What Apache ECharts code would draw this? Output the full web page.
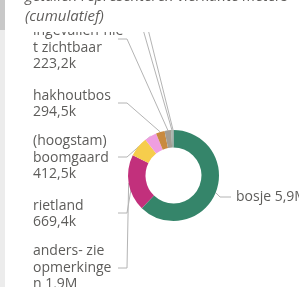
<!doctype html>
<html>
	<head>
		<meta charset="UTF-8">
		<title></title>
		<script src="https://cdn.jsdelivr.net/npm/echarts@6/dist/echarts.min.js"></script>
		<style>
			html, body { margin: 0; padding: 0; background: #ffffff; }
			#main { width: 299px; height: 287px; }
		</style>
	</head>
	<body>
		<div id="main"></div>
		<script type="text/javascript">
			// categorieen, met afbreking zoals in het origineel
			var categories = ['bosje', 'anders- zie opmerkingen', 'rietland', '(hoogstam) boomgaard', 'hakhoutbos', 'ingevallen-niet zichtbaar', 'houtwal', 'overig'];
			var labelPrefix = ['bosje ', 'anders- zie\nopmerkinge\nn ', 'rietland\n', '(hoogstam)\nboomgaard\n', 'hakhoutbos\n', 'ingevallen-nie\nt zichtbaar\n', 'houtwal ', 'overig '];
			var values = [5900000, 1900000, 669400, 412500, 294500, 223200, 45000, 30000];
			var colors = ['#35856a', '#c2307c', '#f6cd4c', '#ef9ee0', '#c98a3f', '#a39d94', '#93a89b', '#9a9a9a'];

			// plek van de labels (links uitgelijnd) en de hoogte van de lijnen
			var labelX = [236, 33, 33, 33, 33, 33, 128, 134];
			var labelY = [197, 268, 214, 158, 104, 48, 2, 2];
			var lineY = [197, 268, 213, 157, 103, 39, 5, 5];

			function fmt(v) {
				if (v >= 1000000) return (v / 1000000).toFixed(1).replace('.', ',') + 'M';
				return (v / 1000).toFixed(1).replace('.', ',') + 'k';
			}

			var data = [];
			for (var i = 0; i < categories.length; i++) {
				data.push({ name: categories[i], value: values[i], itemStyle: { color: colors[i] } });
			}

			var myChart = echarts.init(document.getElementById('main'));
			var option = {
				animation: false,
				backgroundColor: '#ffffff',
				series: [{
					type: 'pie',
					center: [173.5, 175.5],
					radius: [28, 45.5],
					startAngle: 90,
					clockwise: true,
					avoidLabelOverlap: false,
					data: data,
					label: {
						show: true,
						position: 'outside',
						fontFamily: 'Open Sans',
						fontSize: 14,
						lineHeight: 16.5,
						color: '#5d5c5a',
						formatter: function (p) {
							return labelPrefix[p.dataIndex] + fmt(p.value);
						}
					},
					labelLine: {
						show: true,
						lineStyle: { color: '#b4b4b4', width: 1 }
					},
					labelLayout: function (p) {
						var i = p.dataIndex;
						var start = p.labelLinePoints ? p.labelLinePoints[0] : [173, 131];
						var pts;
						if (i == 0) {
							pts = [start, [220, lineY[i]], [231, lineY[i]]];
						} else if (i >= 6) {
							pts = [start, [labelX[i] + 8, lineY[i]]];
						} else {
							pts = [start, [127, lineY[i]], [118, lineY[i]]];
						}
						return {
							x: labelX[i],
							y: labelY[i],
							align: 'left',
							verticalAlign: 'middle',
							labelLinePoints: pts
						};
					}
				}],
				graphic: [
					{ type: 'rect', z: 100, shape: { x: 0, y: 0, width: 299, height: 32 }, style: { fill: '#ffffff' } },
					{ type: 'rect', z: 101, shape: { x: 0, y: 0, width: 5, height: 287 }, style: { fill: '#ececec' } },
					{ type: 'rect', z: 102, shape: { x: 0, y: 0, width: 5, height: 30 }, style: { fill: '#c8c8c8' } },
					{ type: 'text', z: 103, x: 25, y: -3, style: { text: 'getallen representeren vierkante meters', font: 'italic 15px "Open Sans"', fill: '#605e5c', verticalAlign: 'middle' } },
					{ type: 'text', z: 103, x: 25, y: 17, style: { text: '(cumulatief)', font: 'italic 15px "Open Sans"', fill: '#605e5c', verticalAlign: 'middle' } }
				]
			};
			myChart.setOption(option);
		</script>
	</body>
</html>
